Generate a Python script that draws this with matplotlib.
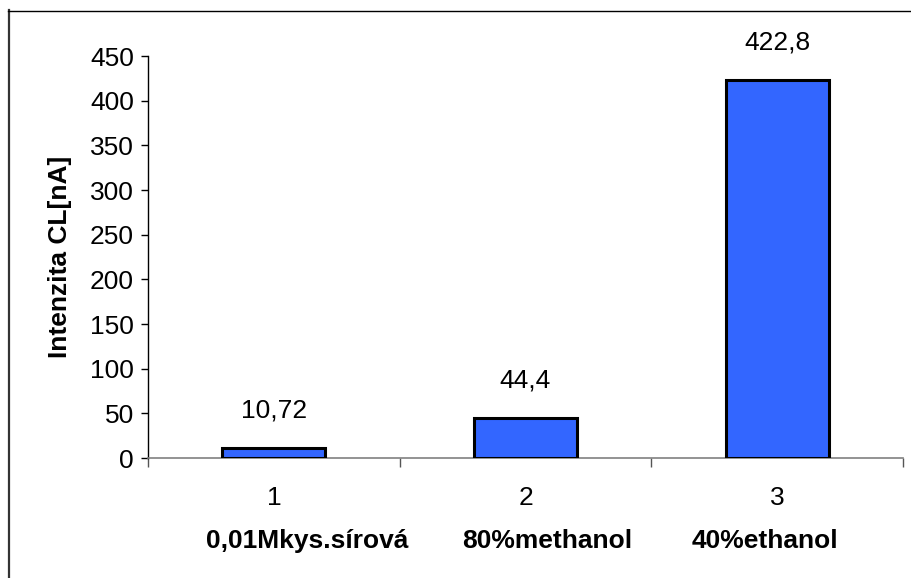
import matplotlib
matplotlib.use("Agg")
import matplotlib.pyplot as plt
from matplotlib.lines import Line2D

plt.rcParams['font.family'] = ['Liberation Sans', 'DejaVu Sans']

# Data
positions = [1, 2, 3]
tick_labels = ["1", "2", "3"]
categories = ["0,01Mkys.sírová", "80%methanol", "40%ethanol"]
values = [10.72, 44.4, 422.8]
value_labels = ["10,72", "44,4", "422,8"]
category_label_x = [1.132, 2.085, 2.952]

fig = plt.figure(figsize=(9.11, 5.78), dpi=100)
ax = fig.add_axes([148 / 911, 1 - 458 / 578, (903 - 148) / 911, (458 - 56) / 578])

ax.bar(positions, values, width=0.41, color="#3366FF", edgecolor="black",
       linewidth=2.2, zorder=3)

for x, v, lab in zip(positions, values, value_labels):
    ax.annotate(lab, (x, v), xytext=(0, 27), textcoords="offset points",
                ha="center", va="center", fontsize=19)

ax.set_xlim(0.5, 3.5)
ax.set_ylim(0, 450)
ax.set_yticks(range(0, 451, 50))
ax.tick_params(axis="y", labelsize=19, length=5, width=1, color="black", pad=5)

# boundary ticks without labels, category numbers on minor ticks
ax.set_xticks([0.5, 1.5, 2.5, 3.5])
ax.set_xticklabels([])
ax.tick_params(axis="x", which="major", length=6.5, width=1, color="#555555")
ax.set_xticks(positions, minor=True)
ax.set_xticklabels(tick_labels, minor=True)
ax.tick_params(axis="x", which="minor", length=0, labelsize=19, pad=20)

for side in ("top", "right"):
    ax.spines[side].set_visible(False)
ax.spines["left"].set_color("black")
ax.spines["bottom"].set_color("#808080")
ax.spines["left"].set_linewidth(1)
ax.spines["bottom"].set_linewidth(1.2)

ax.set_ylabel("Intenzita CL[nA]", fontsize=19, fontweight="bold", labelpad=13)

for x, name in zip(category_label_x, categories):
    ax.annotate(name, (x, 0), xycoords=("data", "axes fraction"),
                xytext=(0, -(541 - 458) * 0.72), textcoords="offset points",
                ha="center", va="center", fontsize=19, fontweight="bold")

# outer frame: left and top edges
fig.add_artist(Line2D([8.5 / 911, 8.5 / 911], [0, 1 - 10 / 578],
                      transform=fig.transFigure, color="#333333", linewidth=1.6))
fig.add_artist(Line2D([8 / 911, 1], [1 - 10.5 / 578, 1 - 10.5 / 578],
                      transform=fig.transFigure, color="black", linewidth=1.0))

fig.savefig("out.png", dpi=100)
